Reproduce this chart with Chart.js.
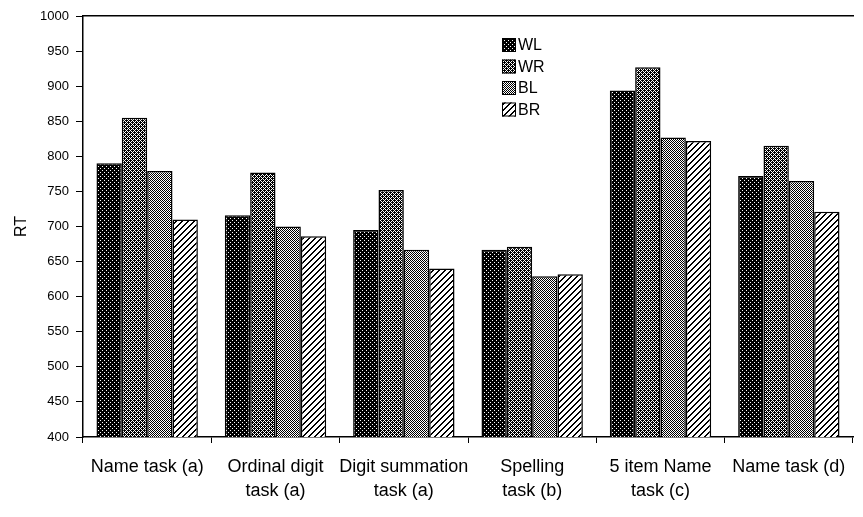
<!DOCTYPE html>
<html lang="en">
<head>
  <meta charset="UTF-8" />
  <title>RT by task</title>
  <script src="https://cdn.jsdelivr.net/npm/chart.js"></script>
  <style>
    body { margin:0; background:#fff; }
    #wrap { width:863px; height:517px; position:relative; }
  </style>
</head>
<body>
  <div id="wrap"><canvas id="chartRT"></canvas></div>

  <script>
    // data
    const categories = [
      ['Name task (a)'],
      ['Ordinal digit', 'task (a)'],
      ['Digit summation', 'task (a)'],
      ['Spelling', 'task (b)'],
      ['5 item Name', 'task (c)'],
      ['Name task (d)']
    ];
    const seriesNames = ['WL', 'WR', 'BL', 'BR'];
    const wl = [790, 716, 695, 667, 894, 772];
    const wr = [855, 777, 752, 671, 927, 815];
    const bl = [779, 700, 667, 629, 827, 765];
    const br = [710, 686, 640, 632, 822, 721];
    const yMin = 400, yMax = 1000, yStep = 50;

    const FONT = "'Liberation Sans', Arial, Helvetica, sans-serif";

    // little tile patterns to mimic the halftone fills
    function makePattern(size, isBlack) {
      const c = document.createElement('canvas');
      c.width = size; c.height = size;
      const g = c.getContext('2d');
      g.fillStyle = '#fff';
      g.fillRect(0, 0, size, size);
      g.fillStyle = '#000';
      for (let x = 0; x < size; x++)
        for (let y = 0; y < size; y++)
          if (isBlack(x, y)) g.fillRect(x, y, 1, 1);
      return g.createPattern(c, 'repeat');
    }
    const ctx = document.getElementById('chartRT').getContext('2d');
    const fills = [
      makePattern(4, (x, y) => !((x === 0 && y === 0) || (x === 2 && y === 2))),
      makePattern(4, (x, y) => !((x + y) % 4 === 0 || (x - y + 8) % 4 === 0)),
      makePattern(2, (x, y) => (x + y) % 2 === 0),
      makePattern(6, (x, y) => (x + y) % 6 < 2)
    ];
    const values = [wl, wr, bl, br];

    // legend drawn inside the plot, upper middle
    const boxLegend = {
      id: 'boxLegend',
      afterDraw(chart) {
        const c = chart.ctx, a = chart.chartArea;
        const x0 = a.left + 419, y0 = 38, gap = 21.5;
        c.save();
        c.font = '16px ' + FONT;
        c.textBaseline = 'middle';
        seriesNames.forEach((name, i) => {
          const y = y0 + i * gap;
          c.fillStyle = chart.data.datasets[i].backgroundColor;
          c.fillRect(x0, y, 14, 14);
          c.strokeStyle = '#000';
          c.lineWidth = 1;
          c.strokeRect(x0 + 0.5, y + 0.5, 13, 13);
          c.fillStyle = '#000';
          c.fillText(name, x0 + 16, y + 8);
        });
        c.restore();
      }
    };

    new Chart(ctx, {
      type: 'bar',
      data: {
        labels: categories,
        datasets: seriesNames.map((name, i) => ({
          label: name,
          data: values[i],
          backgroundColor: fills[i],
          borderColor: '#000',
          borderWidth: 1.5,
          borderSkipped: 'bottom',
          categoryPercentage: 0.79,
          barPercentage: 1.0
        }))
      },
      options: {
        responsive: true,
        maintainAspectRatio: false,
        animation: false,
        layout: { padding: { top: 16, right: 10, left: 12, bottom: 0 } },
        plugins: { legend: { display: false }, tooltip: { enabled: false } },
        scales: {
          x: {
            grid: { offset: true, drawOnChartArea: false, tickLength: 6, color: '#000', tickColor: '#000' },
            border: { color: '#000', width: 1.5 },
            ticks: { color: '#000', font: { family: FONT, size: 18, lineHeight: 1.35 }, padding: 12, maxRotation: 0, autoSkip: false },
            afterFit(s) { s.height = 80; }
          },
          xTop: {
            position: 'top',
            grid: { display: false },
            ticks: { display: false },
            border: { color: '#000', width: 1.5 },
            afterFit(s) { s.height = 0; }
          },
          y: {
            min: yMin,
            max: yMax,
            grid: { drawOnChartArea: false, tickLength: 7, color: '#000', tickColor: '#000' },
            border: { color: '#000', width: 1.5 },
            ticks: {
              stepSize: yStep / 2,
              color: '#000',
              font: { family: FONT, size: 13 },
              padding: 7,
              callback: v => (v % yStep === 0 ? v : '')
            },
            title: { display: true, text: 'RT', color: '#000', font: { family: FONT, size: 16 }, padding: { top: 0, bottom: 6 } },
            afterFit(s) { s.width = 71; }
          }
        }
      },
      plugins: [boxLegend]
    });
  </script>
</body>
</html>
